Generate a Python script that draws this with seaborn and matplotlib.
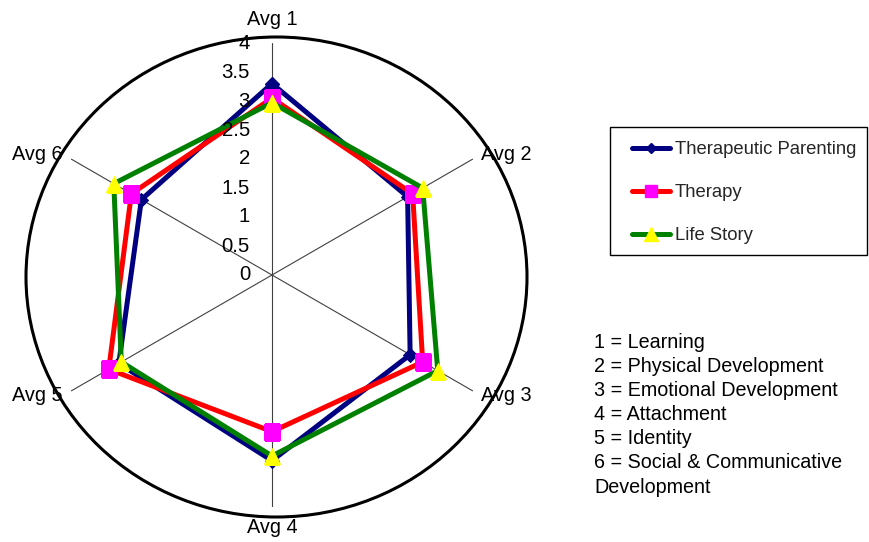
import matplotlib
matplotlib.use("Agg")
import numpy as np
import pandas as pd
import seaborn as sns
import matplotlib.pyplot as plt
import matplotlib.transforms as mtransforms
from matplotlib.patches import Ellipse, Rectangle
from matplotlib.lines import Line2D

# ---- data ----
categories = ["Avg 1", "Avg 2", "Avg 3", "Avg 4", "Avg 5", "Avg 6"]
therapeutic_parenting = [3.3, 2.7, 2.75, 3.2, 3.05, 2.6]
therapy = [3.05, 2.8, 3.0, 2.7, 3.25, 2.8]
life_story = [2.97, 3.0, 3.3, 3.12, 3.0, 3.15]
series_names = ["Therapeutic Parenting", "Therapy", "Life Story"]
r_ticks = [0, 0.5, 1, 1.5, 2, 2.5, 3, 3.5, 4]
r_tick_labels = ["0", "0.5", "1", "1.5", "2", "2.5", "3", "3.5", "4"]
key_lines = ["1 = Learning", "2 = Physical Development", "3 = Emotional Development",
             "4 = Attachment", "5 = Identity", "6 = Social & Communicative",
             "Development"]

sns.set_style("white")
plt.rcParams["font.family"] = ["Liberation Sans", "DejaVu Sans"]

W, H = 869, 542
fig = plt.figure(figsize=(W / 100, H / 100), dpi=100)
cx, cy, R = 272, 275, 232
ax = fig.add_axes([(cx - R) / W, (H - cy - R) / H, 2 * R / W, 2 * R / H], projection="polar")
ax.set_theta_offset(np.pi / 2)
ax.set_theta_direction(-1)

n = len(categories)
theta = np.arange(n) * 2 * np.pi / n
styles = [
    dict(color="#000080", marker="D", mfc="#000080", ms=7),
    dict(color="#FF0000", marker="s", mfc="#FF00FF", ms=11.5),
    dict(color="#008000", marker="^", mfc="#FFFF00", ms=12),
]
all_vals = [therapeutic_parenting, therapy, life_story]
for name, vals, st in zip(series_names, all_vals, styles):
    df = pd.DataFrame({"theta": np.append(theta, 2 * np.pi), "r": list(vals) + [vals[0]]})
    sns.lineplot(data=df, x="theta", y="r", ax=ax, sort=False, estimator=None,
                 errorbar=None, color=st["color"], lw=3.6, marker=st["marker"],
                 markerfacecolor=st["mfc"], markeredgecolor=st["mfc"],
                 markersize=st["ms"], legend=False)

ax.set_ylim(0, 4)
ax.set_xticks(theta)
ax.set_xticklabels([])
ax.set_yticks(r_ticks)
ax.set_yticklabels([])
ax.yaxis.grid(False)
ax.xaxis.grid(True, color="#404040", lw=0.8)
ax.spines["polar"].set_visible(False)
ax.set_xlabel("")
ax.set_ylabel("")
ax.tick_params(length=0)

# outer ellipse
ell = Ellipse((0.5 + 4.5 / (2 * R), 0.5 - 2 / (2 * R)), 501 / (2 * R), 480 / (2 * R),
              transform=ax.transAxes, fill=False, ec="black", lw=2.2, clip_on=False)
ax.add_artist(ell)

# radial tick labels
off = mtransforms.offset_copy(ax.transData, fig=fig, x=-22, y=0, units="dots")
for v, lab in zip(r_ticks, r_tick_labels):
    ax.text(0, v, lab, transform=off, ha="right", va="center", fontsize=14.7, color="black")

# category labels
lab_pos = [(4.4, "center"), (4.17, "left"), (4.17, "left"),
           (4.35, "center"), (4.17, "right"), (4.17, "right")]
for t, cat, (rr, ha) in zip(theta, categories, lab_pos):
    ax.text(t, rr, cat, ha=ha, va="center", fontsize=14.3, color="black", clip_on=False)

# legend
handles = [Line2D([], [], color=st["color"], lw=3.6, marker=st["marker"],
                  markerfacecolor=st["mfc"], markeredgecolor=st["mfc"],
                  markersize=st["ms"] * 0.8) for st in styles]
fig.legend(handles, series_names, loc="upper left",
           bbox_to_anchor=(632 / W, 1 - 141 / H), frameon=False, borderpad=0,
           borderaxespad=0, handlelength=2.05, handletextpad=0.27,
           labelspacing=1.42, fontsize=13.3)
fig.patches.append(Rectangle((610 / W, 1 - 255 / H), 257 / W, 128 / H,
                             transform=fig.transFigure, fill=False, ec="black", lw=1))

# key text
for i, line in enumerate(key_lines):
    fig.text(594 / W, 1 - (342 + i * 24.2) / H, line, ha="left", va="center",
             fontsize=14.2, color="black")

fig.savefig("out.png", dpi=100)
